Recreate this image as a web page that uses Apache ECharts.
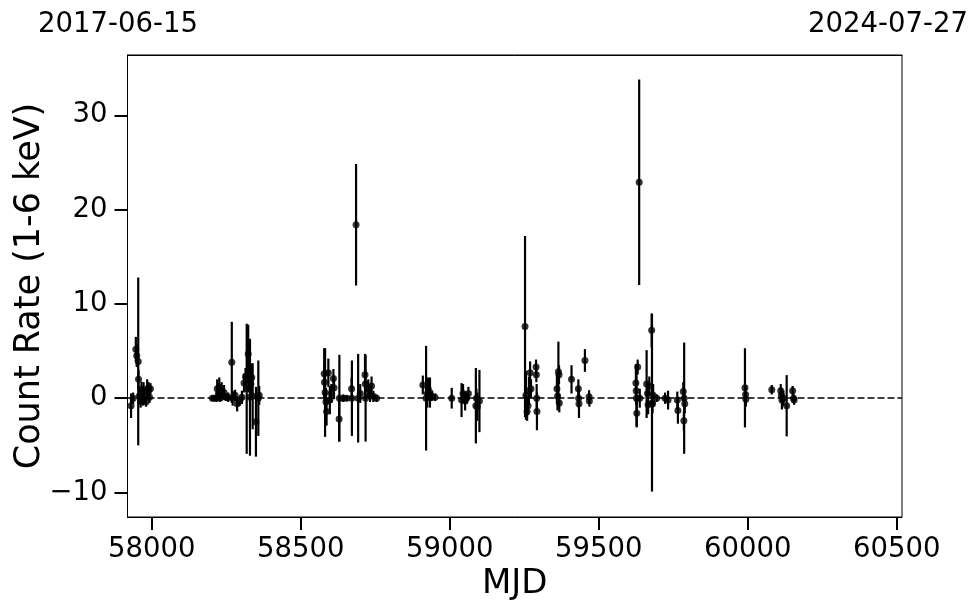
<!DOCTYPE html>
<html><head><meta charset="utf-8">
<script src="https://cdn.jsdelivr.net/npm/echarts@6/dist/echarts.min.js"></script>
<style>html,body{margin:0;padding:0;background:#fff}#c{width:980px;height:613px}</style>
</head><body><div id="c"></div>
<script>
const mjd = [
  57931,57938,57947,57950,57955,57956,57958,57963,57966,57970,57973,57976,57981,57985,57990,57993,57996,
  58204,58210,58218,58220,58224,58227,58230,58235,58243,58250,58257,58269,58272,58280,58287,58296,58303,58310,58315,58319,58324,58327,58330,58333,58336,58339,58350,58358,58361,
  58579,58580,58582,58585,58587,58593,58598,58603,58610,58612,58629,58630,58643,58655,58671,58672,58686,58693,58700,58716,58717,58718,58727,58733,58738,58744,58755,
  58910,58921,58925,58928,58934,58940,58951,59007,59040,59045,59052,59057,59063,59088,59090,59093,59100,
  59253,59256,59260,59263,59266,59270,59273,59290,59291,59292,59293,59360,59362,59365,59367,59368,59409,59432,59433,59434,59454,59468,59469,
  59625,59626,59627,59628,59631,59636,59638,59661,59664,59666,59670,59678,59679,59681,59683,59695,59723,59733,59764,59766,59784,59786,59787,59789,
  59991,59993,59994,60081,60111,60113,60115,60120,60131,60151,60154,60156
];
const rate = [
  -0.8,0.0,5.2,4.5,3.9,2.0,0.2,-0.3,0.95,-0.3,0.8,0.2,-0.4,1.0,0.9,0.1,1.0,
  0.0,0.0,0.0,1.0,0.5,1.2,0.2,0.7,0.6,0.1,0.1,3.8,0.0,0.3,-0.6,-0.3,0.1,1.6,2.3,1.0,4.7,2.6,0.1,1.5,2.2,0.2,-2.5,0.0,0.3,
  2.6,1.7,0.6,-0.4,-1.4,2.7,-0.2,0.5,2.1,1.1,-2.2,0.0,0.0,0.0,1.0,0.0,18.4,0.0,0.5,2.5,1.5,0.0,1.0,0.3,1.3,0.2,0.0,
  1.4,0.0,0.5,1.0,0.6,0.2,0.1,0.0,-0.2,0.5,-0.3,0.0,0.5,-0.8,0.0,-0.9,-0.3,
  7.6,0.3,-1.4,-0.8,0.8,2.7,1.0,3.3,2.5,0.0,-1.4,1.0,0.2,2.8,2.5,-0.5,2.0,1.0,0.0,-0.6,4.0,0.15,-0.3,
  1.6,0.8,0.0,-1.6,3.3,22.9,0.0,1.5,0.5,-0.7,1.3,7.2,-0.5,-0.6,0.3,0.0,0.0,-0.2,-0.2,-1.3,0.7,-2.4,0.0,-0.6,
  1.1,0.4,-0.1,0.9,0.8,0.3,-0.2,0.0,-0.8,0.8,0.0,-0.2
];
const rateErr = [
  1.3,0.6,1.3,1.2,8.9,1.0,0.8,0.7,0.8,0.5,0.9,0.6,0.5,1.0,0.8,0.6,0.6,
  0.3,0.2,0.4,1.0,0.8,1.0,0.6,1.0,0.8,0.4,0.5,4.3,0.8,0.6,0.8,0.5,0.7,1.0,0.9,6.9,3.1,2.0,6.2,1.5,1.5,3.5,3.7,4.0,1.0,
  2.7,2.0,4.7,1.5,1.5,1.5,1.5,1.0,1.0,1.2,2.4,4.6,0.4,0.3,1.2,4.0,6.45,4.7,1.0,2.2,1.5,4.6,1.0,0.7,1.0,0.6,0.4,
  1.0,5.55,1.5,1.2,1.6,0.5,0.4,1.1,1.8,1.0,1.0,0.6,0.7,4.0,1.0,1.5,3.3,
  9.6,2.6,1.0,1.0,1.5,1.2,1.0,0.8,0.8,1.5,2.0,1.5,1.5,3.2,1.0,1.0,1.5,1.0,1.0,1.5,1.2,0.7,0.6,
  2.0,1.5,3.0,1.5,0.8,10.9,1.0,3.6,1.0,1.0,1.0,1.8,9.4,1.0,1.2,0.4,0.6,1.0,0.9,1.4,1.0,1.0,5.9,1.0,
  4.2,1.0,0.8,0.5,0.7,0.7,1.0,0.8,3.25,0.5,0.5,0.5
];
const xTicks = [58000,58500,59000,59500,60000,60500];
const yTicks = [-10,0,10,20,30];
const xRange = [57919,60518];
const yRange = [-12.6,36.4];
const topDates = ['2017-06-15','2024-07-27'];
const xTitle = 'MJD';
const yTitle = 'Count Rate (1-6 keV)';

const FONT = 'DejaVu Sans';
const FS = 27.5;
const points = mjd.map((m,i)=>[m, rate[i]]);
const bars = mjd.map((m,i)=>[m, rate[i]-rateErr[i], rate[i]+rateErr[i]]);
const fmtY = v => v < 0 ? '\u2212' + Math.abs(v) : String(v);

const chart = echarts.init(document.getElementById('c'), null, {renderer:'canvas'});
chart.setOption({
  animation:false,
  backgroundColor:'#fff',
  grid:{left:127.5, right:78, top:55, bottom:96, show:true, borderColor:'#000', borderWidth:1,
        backgroundColor:'transparent', containLabel:false, outerBoundsMode:'none'},
  xAxis:[{
    type:'value', min:xRange[0], max:xRange[1], position:'bottom',
    splitLine:{show:false},
    axisLine:{show:true, onZero:false, lineStyle:{color:'#000', width:1}},
    axisTick:{show:true, inside:false, length:13, lineStyle:{color:'#000', width:2}, customValues:xTicks},
    axisLabel:{color:'#000', fontFamily:FONT, fontSize:FS, margin:19, customValues:xTicks,
      formatter:v=>String(v), showMinLabel:true, showMaxLabel:true},
    name:xTitle, nameLocation:'middle', nameGap:50, nameMoveOverlap:false,
    nameTextStyle:{color:'#000', fontFamily:FONT, fontSize:34}
  },{
    type:'value', min:xRange[0], max:xRange[1], position:'top',
    splitLine:{show:false},
    axisLine:{show:true, onZero:false, lineStyle:{color:'#000', width:1}},
    axisTick:{show:false},
    axisLabel:{color:'#000', fontFamily:FONT, fontSize:FS, margin:16,
      customValues:[xRange[0], xRange[1]],
      formatter:(v)=> v===xRange[0] ? '{a|'+topDates[0]+'}' : '{b|'+topDates[1]+'}',
      rich:{a:{fontFamily:FONT, fontSize:FS, color:'#000', padding:[0,19,0,0]},
            b:{fontFamily:FONT, fontSize:FS, color:'#000', padding:[0,28,0,0]}}
    }
  }],
  yAxis:{
    type:'value', min:yRange[0], max:yRange[1],
    splitLine:{show:false},
    axisLine:{show:true, onZero:false, lineStyle:{color:'#000', width:1}},
    axisTick:{show:true, inside:false, length:13, lineStyle:{color:'#000', width:2}, customValues:yTicks},
    axisLabel:{color:'#000', fontFamily:FONT, fontSize:FS, margin:20, customValues:yTicks, formatter:fmtY},
    name:yTitle, nameLocation:'middle', nameGap:80, nameRotate:90, nameMoveOverlap:false,
    nameTextStyle:{color:'#000', fontFamily:FONT, fontSize:35}
  },
  series:[{
    type:'custom', xAxisIndex:0, clip:true, z:2,
    data:bars,
    encode:{x:0, y:[1,2]},
    renderItem:(params, api)=>{
      const x = api.value(0);
      const lo = api.coord([x, api.value(1)]);
      const hi = api.coord([x, api.value(2)]);
      return {type:'line', shape:{x1:lo[0], y1:lo[1], x2:hi[0], y2:hi[1]},
              style:{stroke:'#000', lineWidth:2.2}};
    }
  },{
    type:'scatter', xAxisIndex:0, data:points, symbol:'circle', symbolSize:7, z:3,
    itemStyle:{color:'#000'},
    markLine:{silent:true, symbol:['none','none'], label:{show:false},
      lineStyle:{color:'#000', type:[7,3], width:1.5},
      data:[{yAxis:0}]}
  }]
});
</script></body></html>
